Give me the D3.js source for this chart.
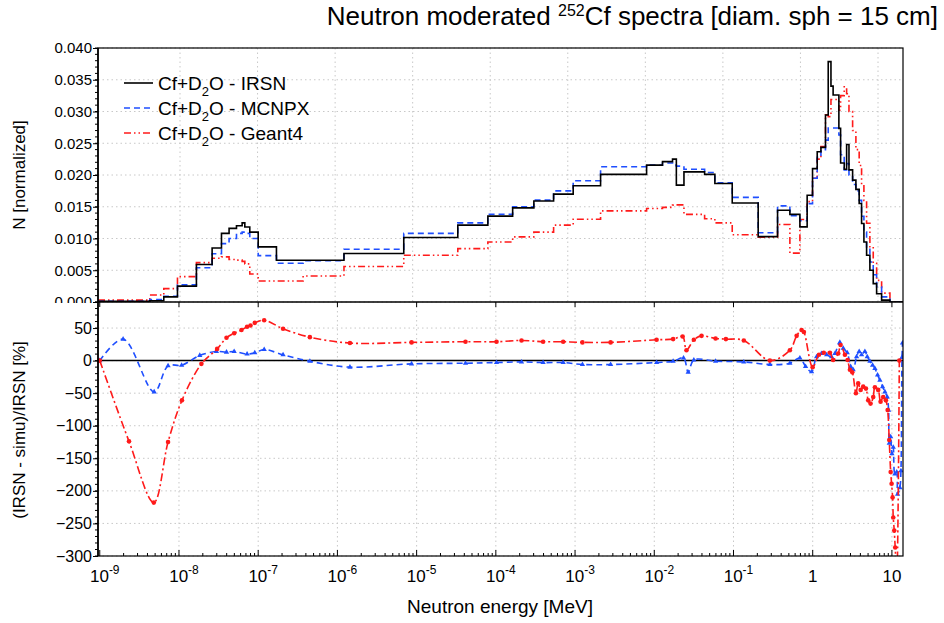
<!DOCTYPE html>
<html>
<head>
<meta charset="utf-8">
<script src="https://cdn.jsdelivr.net/npm/d3@7"></script>
<style>
  body { margin: 0; background: #fff; }
  text { font-family: 'Liberation Sans Narrow', 'Liberation Sans', sans-serif; fill: #000; }
  .reg { font-family: 'Liberation Sans', Arial, sans-serif; }
</style>
</head>
<body>
<svg id="canvas" width="944" height="623"></svg>
<script>
// bin edges of the spectra (MeV)
var edges = [0.95e-9, 4.28e-9, 6.43e-9, 9.57e-9, 1.66e-8, 2.62e-8, 3.44e-8, 4.29e-8, 5.32e-8, 6.27e-8,
  6.78e-8, 7.83e-8, 1.0e-7, 1.70e-7, 3.69e-7, 1.21e-6, 6.88e-6, 3.31e-5, 7.93e-5, 1.63e-4,
  3.02e-4, 5.36e-4, 9.47e-4, 2.10e-3, 8.0e-3, 1.27e-2, 1.70e-2, 1.90e-2, 2.37e-2, 4.32e-2,
  5.82e-2, 9.64e-2, 0.205, 0.360, 0.515, 0.689, 0.851, 0.995, 1.14, 1.27,
  1.45, 1.57, 1.70, 1.81, 2.14, 2.25, 2.50, 2.68, 2.87, 3.19,
  3.51, 3.86, 4.14, 4.43, 4.79, 5.27, 5.81, 6.41, 7.41, 9.44, 13.8];

var irsn = [0.0001, 0.0002, 0.0008, 0.0025, 0.0059, 0.0085, 0.0108, 0.0116, 0.0120, 0.01246,
  0.0118, 0.0110, 0.00868, 0.00658, 0.00658, 0.00763, 0.01016, 0.0121, 0.01352, 0.01483,
  0.0159, 0.01699, 0.0183, 0.0201, 0.02156, 0.0221, 0.0225, 0.0184, 0.0205, 0.0201,
  0.01867, 0.0156, 0.0103, 0.01446, 0.0138, 0.01183, 0.0168, 0.0210, 0.02366, 0.02435,
  0.02945, 0.03785, 0.0340, 0.0326, 0.02735, 0.0219, 0.0209, 0.0248, 0.0208, 0.0192,
  0.01773, 0.01552, 0.01237, 0.00946, 0.00737, 0.0050, 0.0029, 0.0013, 0.0003, 0];

var mcnpx = [0.0001, 0.0004, 0.0009, 0.0027, 0.0054, 0.0076, 0.0092, 0.0100, 0.0108, 0.0110,
  0.0108, 0.0100, 0.0073, 0.0061, 0.0065, 0.0083, 0.0108, 0.01246, 0.01383, 0.0150,
  0.01604, 0.0175, 0.0191, 0.0213, 0.02156, 0.0219, 0.02156, 0.0214, 0.0209, 0.0204,
  0.01877, 0.01647, 0.0109, 0.01514, 0.0136, 0.0128, 0.0155, 0.0195, 0.0228, 0.0240,
  0.0255, 0.0274, 0.0274, 0.0274, 0.0263, 0.0232, 0.0208, 0.0218, 0.0200, 0.0185,
  0.0175, 0.0160, 0.0135, 0.0110, 0.0085, 0.0063, 0.0043, 0.0024, 0.0008, 0];

var geant4 = [0.0003, 0.0011, 0.0021, 0.0040, 0.0062, 0.0069, 0.0071, 0.0067, 0.0066, 0.0064,
  0.0060, 0.0044, 0.0033, 0.0033, 0.0041, 0.0056, 0.00737, 0.0084, 0.00946, 0.01025,
  0.0110, 0.0121, 0.01304, 0.01435, 0.01473, 0.0149, 0.01525, 0.0153, 0.0138, 0.0131,
  0.01246, 0.0106, 0.0102, 0.0122, 0.0077, 0.0130, 0.0158, 0.0195, 0.0225, 0.0245,
  0.0295, 0.0292, 0.0319, 0.0319, 0.0302, 0.0325, 0.0339, 0.0328, 0.0300, 0.0270,
  0.0240, 0.0215, 0.0185, 0.0160, 0.0124, 0.0087, 0.0061, 0.0034, 0.0014, 0];

// relative differences (IRSN - simu)/IRSN in %
var ratioMcnpxE = [1.0e-9, 1.97e-9, 4.86e-9, 7.28e-9, 1.08e-8, 1.83e-8, 2.97e-8, 3.98e-8, 4.97e-8, 7.24e-8,
  9.06e-8, 1.19e-7, 2.06e-7, 4.49e-7, 1.44e-6, 8.63e-6, 4.14e-5, 1.02e-4, 2.11e-4, 3.95e-4,
  7.08e-4, 1.24e-3, 2.81e-3, 1.07e-2, 1.73e-2, 2.34e-2, 2.68e-2, 3.16e-2, 5.94e-2, 0.135,
  0.288, 0.515, 0.689, 0.813, 0.968, 1.12, 1.29, 1.50, 1.73, 1.91,
  2.20, 2.43, 2.73, 3.01, 3.24, 3.58, 3.86, 4.14, 4.56, 4.88,
  5.27, 5.70, 6.10, 6.59, 7.05, 7.62, 8.16, 8.73, 9.08, 9.25,
  9.64, 10.0, 10.4, 10.9, 11.5, 11.8, 12.6, 13.0, 13.4, 13.6];
var ratioMcnpx = [0, 33, -48, -8, -7, 8, 14, 13, 14, 10,
  12, 17, 9, -1, -10, -5, -4, -3, -2, -3,
  -3, -6, -6, -3, -1, 4, -18, 1, -1, -2,
  -6, -4, 4, -9, -17, 6, 11, 9, 6, 11,
  28, 19, 12, -9, -14, 6, 14, 9, 14, 6,
  -1, -7, -12, -22, -30, -40, -48, -56, -76, -127,
  -117, -143, -133, -174, -171, -205, -195, -169, 5, 27];

var ratioGeantE = [1.0e-9, 2.34e-9, 4.81e-9, 7.28e-9, 1.09e-8, 1.92e-8, 3.03e-8, 3.98e-8, 4.97e-8, 6.15e-8,
  7.24e-8, 8.0e-8, 9.06e-8, 1.19e-7, 2.06e-7, 4.49e-7, 1.44e-6, 8.63e-6, 4.14e-5, 1.02e-4,
  2.11e-4, 3.95e-4, 7.08e-4, 1.24e-3, 2.81e-3, 1.07e-2, 1.73e-2, 2.28e-2, 2.55e-2, 3.16e-2,
  3.95e-2, 5.94e-2, 8.02e-2, 0.135, 0.288, 0.515, 0.627, 0.724, 0.774, 0.998,
  1.20, 1.38, 1.65, 1.81, 2.10, 2.25, 2.55, 2.76, 2.95, 3.16,
  3.51, 3.75, 4.03, 4.34, 4.70, 5.02, 5.38, 5.81, 6.10, 6.71,
  7.19, 7.76, 8.39, 8.83, 9.25, 9.64, 9.91, 10.2, 10.4, 10.7,
  11.0, 11.5, 12.4];
var ratioGeant = [0, -124, -218, -125, -61, -5, 18, 35, 42, 47,
  52, 54, 58, 62, 49, 36, 27, 28, 29, 29,
  31, 29, 29, 28, 28, 32, 33, 37, 16, 32,
  38, 34, 33, 31, 0, 16, 38, 47, 44, -10,
  9, 12, 12, 1, 11, 24, 9, 1, -14, -18,
  -50, -35, -45, -40, -43, -61, -66, -56, -41, -45,
  -63, -56, -61, -76, -122, -171, -189, -210, -241, -261,
  -287, -340, 0];

var decades = [1e-9, 1e-8, 1e-7, 1e-6, 1e-5, 1e-4, 1e-3, 1e-2, 1e-1, 1, 10];
var yTopTicks = [0, 0.005, 0.010, 0.015, 0.020, 0.025, 0.030, 0.035, 0.040];
var yBotTicks = [-300, -250, -200, -150, -100, -50, 0, 50];

var series = [
  {name: 'IRSN', values: irsn, color: '#000', dash: null},
  {name: 'MCNPX', values: mcnpx, color: '#1f4fff', dash: '6,4'},
  {name: 'Geant4', values: geant4, color: '#ff1a1a', dash: '7,3,1.5,3,1.5,3'},
];

var svg = d3.select('#canvas');
var left = 98, right = 903;
var topY = 48, midY = 302, botY = 556;

var x = d3.scaleLog().domain([0.95e-9, 13.8]).range([left, right]);
// the upper pad's grid is drawn slightly compressed
var xGrid = d3.scaleLog().domain([1e-8, 10]).range([180, 878]);
var yTop = d3.scaleLinear().domain([0, 0.04]).range([midY, topY]);
var yBot = d3.scaleLinear().domain([-300, 90]).range([botY, midY]);

svg.append('rect').attr('width', 944).attr('height', 623).attr('fill', '#fff');

var defs = svg.append('defs');
defs.append('clipPath').attr('id', 'clipTop')
  .append('rect').attr('x', left).attr('y', topY).attr('width', right - left).attr('height', midY - topY);
defs.append('clipPath').attr('id', 'clipBot')
  .append('rect').attr('x', left).attr('y', midY).attr('width', right - left).attr('height', botY - midY);

// grids
var grid = svg.append('g').attr('stroke', '#c8c8c8').attr('stroke-width', 1).attr('stroke-dasharray', '1.5,3');
decades.slice(1).forEach(function(d) {
  grid.append('line').attr('x1', xGrid(d)).attr('x2', xGrid(d)).attr('y1', topY).attr('y2', midY);
  grid.append('line').attr('x1', x(d)).attr('x2', x(d)).attr('y1', midY).attr('y2', botY);
});
yTopTicks.forEach(function(d) {
  grid.append('line').attr('x1', left).attr('x2', right).attr('y1', yTop(d)).attr('y2', yTop(d));
});
yBotTicks.forEach(function(d) {
  grid.append('line').attr('x1', left).attr('x2', right).attr('y1', yBot(d)).attr('y2', yBot(d));
});

// spectra
var stepLine = d3.line()
  .x(function(d) { return x(d[0]); })
  .y(function(d) { return yTop(d[1]); })
  .curve(d3.curveStepAfter);

var topG = svg.append('g').attr('clip-path', 'url(#clipTop)');
series.slice().reverse().forEach(function(s) {
  var pts = edges.slice(0, -1).map(function(e, i) { return [e, s.values[i]]; });
  pts.push([edges[edges.length - 1], s.values[s.values.length - 1]]);
  topG.append('path')
    .attr('d', stepLine(pts))
    .attr('fill', 'none')
    .attr('stroke', s.color)
    .attr('stroke-width', 1.6)
    .attr('stroke-dasharray', s.dash);
});

// legend
var legend = svg.append('g');
series.forEach(function(s, i) {
  var ly = 83 + i * 25;
  legend.append('line').attr('x1', 124).attr('x2', 153).attr('y1', ly).attr('y2', ly)
    .attr('stroke', s.color).attr('stroke-width', 1.6).attr('stroke-dasharray', s.dash);
  var t = legend.append('text').attr('class', 'reg').attr('x', 158).attr('y', ly + 7)
    .style('font-size', '19px');
  t.append('tspan').text('Cf+D');
  t.append('tspan').attr('dy', 6).style('font-size', '13px').text('2');
  t.append('tspan').attr('dy', -6).text('O - ' + s.name);
});

// ratio panel
var ratioLine = d3.line()
  .x(function(d) { return x(d[0]); })
  .y(function(d) { return yBot(d[1]); })
  .curve(d3.curveCatmullRom.alpha(0.5));

var botG = svg.append('g').attr('clip-path', 'url(#clipBot)');
botG.append('line').attr('x1', left).attr('x2', right).attr('y1', yBot(0)).attr('y2', yBot(0))
  .attr('stroke', '#000').attr('stroke-width', 1.5);

var mPts = ratioMcnpxE.map(function(e, i) { return [e, ratioMcnpx[i]]; });
var gPts = ratioGeantE.map(function(e, i) { return [e, ratioGeant[i]]; });

botG.append('path').attr('d', ratioLine(mPts)).attr('fill', 'none')
  .attr('stroke', '#1f4fff').attr('stroke-width', 1.6).attr('stroke-dasharray', '6,4');
botG.selectAll('.mk-m').data(mPts).enter().append('path')
  .attr('class', 'mk-m')
  .attr('d', d3.symbol(d3.symbolTriangle, 12))
  .attr('transform', function(d) { return 'translate(' + x(d[0]) + ',' + yBot(d[1]) + ')'; })
  .attr('fill', '#1f4fff');

botG.append('path').attr('d', ratioLine(gPts)).attr('fill', 'none')
  .attr('stroke', '#ff1a1a').attr('stroke-width', 1.6).attr('stroke-dasharray', '8,3,2,3');
botG.selectAll('.mk-g').data(gPts).enter().append('circle')
  .attr('class', 'mk-g')
  .attr('cx', function(d) { return x(d[0]); })
  .attr('cy', function(d) { return yBot(d[1]); })
  .attr('r', 2.3)
  .attr('fill', '#ff1a1a');

// axes: top panel
var yTopAxis = svg.append('g').attr('transform', 'translate(' + left + ',0)')
  .call(d3.axisLeft(yTop).tickValues(yTopTicks).tickFormat(d3.format('.3f')).tickSize(5).tickPadding(1));
yTopAxis.select('.domain').remove();
yTopAxis.selectAll('text').style('font-size', '15px').style('font-family', null);
yTopAxis.selectAll('line').attr('stroke', '#000');
d3.range(0, 0.0401, 0.001).forEach(function(v) {
  svg.append('line').attr('x1', left - 3).attr('x2', left).attr('y1', yTop(v)).attr('y2', yTop(v)).attr('stroke', '#000');
});

// the lower pad hides the bottom of the upper pad's last label
svg.append('rect').attr('x', 0).attr('y', midY + 1).attr('width', left - 1).attr('height', 623 - midY).attr('fill', '#fff');

// axes: ratio panel
var yBotAxis = svg.append('g').attr('transform', 'translate(' + left + ',0)')
  .call(d3.axisLeft(yBot).tickValues(yBotTicks).tickSize(5).tickPadding(1));
yBotAxis.select('.domain').remove();
yBotAxis.selectAll('text').style('font-size', '16px').style('font-family', null);
yBotAxis.selectAll('line').attr('stroke', '#000');
d3.range(-300, 91, 10).forEach(function(v) {
  svg.append('line').attr('x1', left - 3).attr('x2', left).attr('y1', yBot(v)).attr('y2', yBot(v)).attr('stroke', '#000');
});

// x ticks
var minor = [];
decades.forEach(function(d) {
  for (var k = 1; k < 10; k++) {
    var v = d * k;
    if (v >= x.domain()[0] && v <= x.domain()[1]) minor.push(v);
  }
});
minor.forEach(function(v) {
  var major = decades.indexOf(v) >= 0;
  svg.append('line').attr('x1', x(v)).attr('x2', x(v)).attr('y1', botY).attr('y2', botY - (major ? 6 : 3)).attr('stroke', '#000');
  if (major) {
    svg.append('line').attr('x1', x(v)).attr('x2', x(v)).attr('y1', midY).attr('y2', midY + 5).attr('stroke', '#000');
  }
});

var xLabels = svg.append('g');
decades.forEach(function(d) {
  var p = Math.round(Math.log10(d));
  var t = xLabels.append('text').attr('x', x(d)).attr('y', 582).attr('text-anchor', 'middle')
    .style('font-size', '17px');
  if (p === 0) {
    t.text('1');
  } else if (p === 1) {
    t.text('10');
  } else {
    t.attr('x', x(d) + 5);
    t.append('tspan').text('10');
    t.append('tspan').attr('dy', -8).style('font-size', '12px').text(String(p));
  }
});

// frame
var frame = svg.append('g').attr('fill', 'none').attr('stroke', '#000');
frame.append('rect').attr('x', left).attr('y', topY).attr('width', right - left).attr('height', botY - topY).attr('stroke-width', 1.2);
frame.append('line').attr('x1', left).attr('x2', right).attr('y1', midY).attr('y2', midY).attr('stroke-width', 1.6);
frame.append('line').attr('x1', left).attr('x2', left).attr('y1', topY).attr('y2', botY).attr('stroke-width', 1.6);

// titles
var title = svg.append('text').attr('x', 938).attr('y', 25).attr('text-anchor', 'end').style('font-size', '26px');
title.append('tspan').text('Neutron moderated ');
title.append('tspan').attr('dy', -9).style('font-size', '16px').text('252');
title.append('tspan').attr('dy', 9).text('Cf spectra [diam. sph = 15 cm]');

svg.append('text').attr('x', 500).attr('y', 613).attr('text-anchor', 'middle')
  .style('font-size', '19px').text('Neutron energy [MeV]');

svg.append('text').attr('class', 'reg').attr('transform', 'translate(25,175) rotate(-90)')
  .attr('text-anchor', 'middle').style('font-size', '17px').text('N [normalized]');
svg.append('text').attr('class', 'reg').attr('transform', 'translate(25,430) rotate(-90)')
  .attr('text-anchor', 'middle').style('font-size', '17px').text('(IRSN - simu)/IRSN [%]');
</script>
</body>
</html>
